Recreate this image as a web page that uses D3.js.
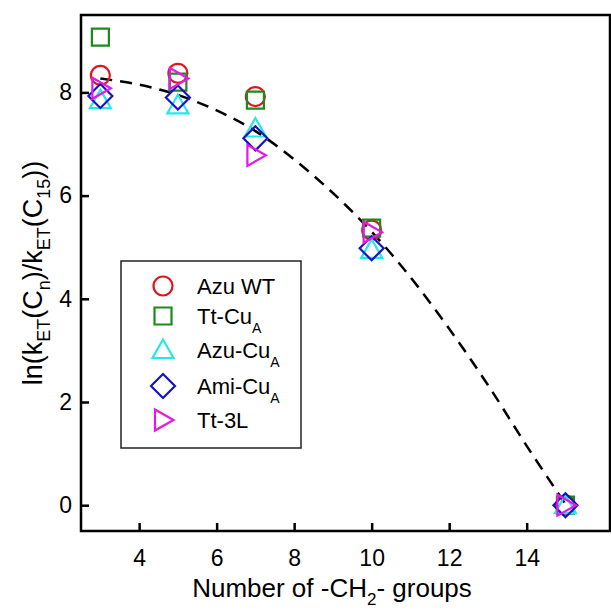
<!DOCTYPE html>
<html>
<head>
<meta charset="utf-8">
<script src="https://cdn.jsdelivr.net/npm/d3@7"></script>
<style>
  body { margin: 0; background: #fff; }
  svg { display: block; font-family: Arial, "Liberation Sans", sans-serif; }
</style>
</head>
<body>
<svg width="611" height="610"></svg>
<script>
// chain lengths (number of -CH2- groups)
var xValues = [3, 5, 7, 10, 15];

// series values, ln(kET(Cn)/kET(C15))
var azuWT   = [8.33, 8.37, 7.92, 5.33, 0];
var ttCuA   = [9.07, 8.2, 7.85, 5.37, 0];
var azuCuA  = [7.85, 7.75, 7.3, 4.95, 0];
var amiCuA  = [7.93, 7.9, 7.11, 4.98, 0];
var tt3L    = [8.08, 8.27, 6.78, 5.29, 0];

// dashed fit curve
var fitX = [3, 4, 5, 6, 7, 8, 9, 10, 11, 12, 13, 14, 15];
var fitY = [8.27, 8.15, 7.95, 7.65, 7.25, 6.7, 6.05, 5.3, 4.42, 3.42, 2.33, 1.15, 0.02];

var xTicks = [4, 6, 8, 10, 12, 14];
var yTicks = [0, 2, 4, 6, 8];

var seriesNames = ["Azu WT", "Tt-Cu", "Azu-Cu", "Ami-Cu", "Tt-3L"];
var seriesSubs = ["", "A", "A", "A", ""];
var seriesData = [azuWT, ttCuA, azuCuA, amiCuA, tt3L];
var seriesColors = ["#e3141c", "#1c8a1c", "#27e8e8", "#1414c4", "#e618e6"];
var seriesShapes = ["circle", "square", "triangle", "diamond", "right"];

var svg = d3.select("svg");
var plotLeft = 81, plotTop = 15, plotRight = 610, plotBottom = 531;

var x = d3.scaleLinear().domain([2.5, 16.15]).range([plotLeft, plotRight]);
var y = d3.scaleLinear().domain([-0.5, 9.5]).range([plotBottom, plotTop]);

function shapePath(type) {
   if (type == "circle") {
      return "M9.5,0A9.5,9.5 0 1,1 -9.5,0A9.5,9.5 0 1,1 9.5,0Z";
   }
   if (type == "square") {
      return "M-8.5,-8.5H8.5V8.5H-8.5Z";
   }
   if (type == "triangle") {
      return "M0,-10.5L10.5,8L-10.5,8Z";
   }
   if (type == "diamond") {
      return "M0,-12L12,0L0,12L-12,0Z";
   }
   return "M-8,-10.5L10.5,0L-8,10.5Z";
}

// frame
svg.append("rect")
   .attr("x", plotLeft)
   .attr("y", plotTop)
   .attr("width", plotRight - plotLeft)
   .attr("height", plotBottom - plotTop)
   .attr("fill", "none")
   .attr("stroke", "#000")
   .attr("stroke-width", 2.5);

// axes
var xAxis = svg.append("g")
   .attr("transform", "translate(0," + plotBottom + ")")
   .call(d3.axisBottom(x).tickValues(xTicks).tickSizeInner(-8).tickSizeOuter(0).tickPadding(19));

var yAxis = svg.append("g")
   .attr("transform", "translate(" + plotLeft + ",0)")
   .call(d3.axisLeft(y).tickValues(yTicks).tickSizeInner(-8).tickSizeOuter(0).tickPadding(9));

[xAxis, yAxis].forEach(function(a) {
   a.select(".domain").remove();
   a.selectAll(".tick line").attr("stroke", "#000").attr("stroke-width", 2.5);
   a.selectAll(".tick text")
      .attr("fill", "#000")
      .style("font-size", "23px")
      .style("font-family", "Arial, 'Liberation Sans', sans-serif");
});

// fit curve
var line = d3.line()
   .x(function(d, i) { return x(fitX[i]); })
   .y(function(d) { return y(d); })
   .curve(d3.curveCatmullRom);

svg.append("path")
   .datum(fitY)
   .attr("d", line)
   .attr("fill", "none")
   .attr("stroke", "#000")
   .attr("stroke-width", 2.5)
   .attr("stroke-dasharray", "12,8");

// markers
seriesData.forEach(function(vals, s) {
   svg.append("g")
      .selectAll("path")
      .data(vals)
      .enter()
      .append("path")
      .attr("transform", function(d, i) {
         return "translate(" + x(xValues[i]) + "," + y(d) + ")";
      })
      .attr("d", shapePath(seriesShapes[s]))
      .attr("fill", "none")
      .attr("stroke", seriesColors[s])
      .attr("stroke-width", 2.2);
});

// legend
var legend = svg.append("g");
legend.append("rect")
   .attr("x", 121)
   .attr("y", 261)
   .attr("width", 180)
   .attr("height", 187)
   .attr("fill", "#fff")
   .attr("stroke", "#222")
   .attr("stroke-width", 1.5);

var legendY = [286, 316, 350, 386, 420];
seriesNames.forEach(function(name, s) {
   legend.append("path")
      .attr("transform", "translate(163," + legendY[s] + ")")
      .attr("d", shapePath(seriesShapes[s]))
      .attr("fill", "none")
      .attr("stroke", seriesColors[s])
      .attr("stroke-width", 2.2);
   var t = legend.append("text")
      .attr("x", 197)
      .attr("y", legendY[s] + 8)
      .style("font-size", "22px")
      .attr("fill", "#000")
      .text(name);
   if (seriesSubs[s]) {
      t.append("tspan")
         .attr("dy", 9)
         .style("font-size", "14px")
         .text(seriesSubs[s]);
   }
});

// x axis title
var xt = svg.append("text")
   .attr("x", 332)
   .attr("y", 597)
   .attr("text-anchor", "middle")
   .style("font-size", "26px")
   .attr("fill", "#000");
xt.append("tspan").text("Number of -CH");
xt.append("tspan").attr("dy", 8).style("font-size", "17px").text("2");
xt.append("tspan").attr("dy", -8).text("- groups");

// y axis title
var yt = svg.append("text")
   .attr("transform", "translate(42,273) rotate(-90)")
   .attr("text-anchor", "middle")
   .style("font-size", "27px")
   .attr("fill", "#000");
var parts = [["ln(k", 0], ["ET", 1], ["(C", 0], ["n", 1], [")/k", 0], ["ET", 1], ["(C", 0], ["15", 1], ["))", 0]];
var prev = 0;
parts.forEach(function(p) {
   var shift = p[1] ? 8 : 0;
   yt.append("tspan")
      .attr("dy", shift - prev)
      .style("font-size", p[1] ? "18px" : "27px")
      .text(p[0]);
   prev = shift;
});
</script>
</body>
</html>
